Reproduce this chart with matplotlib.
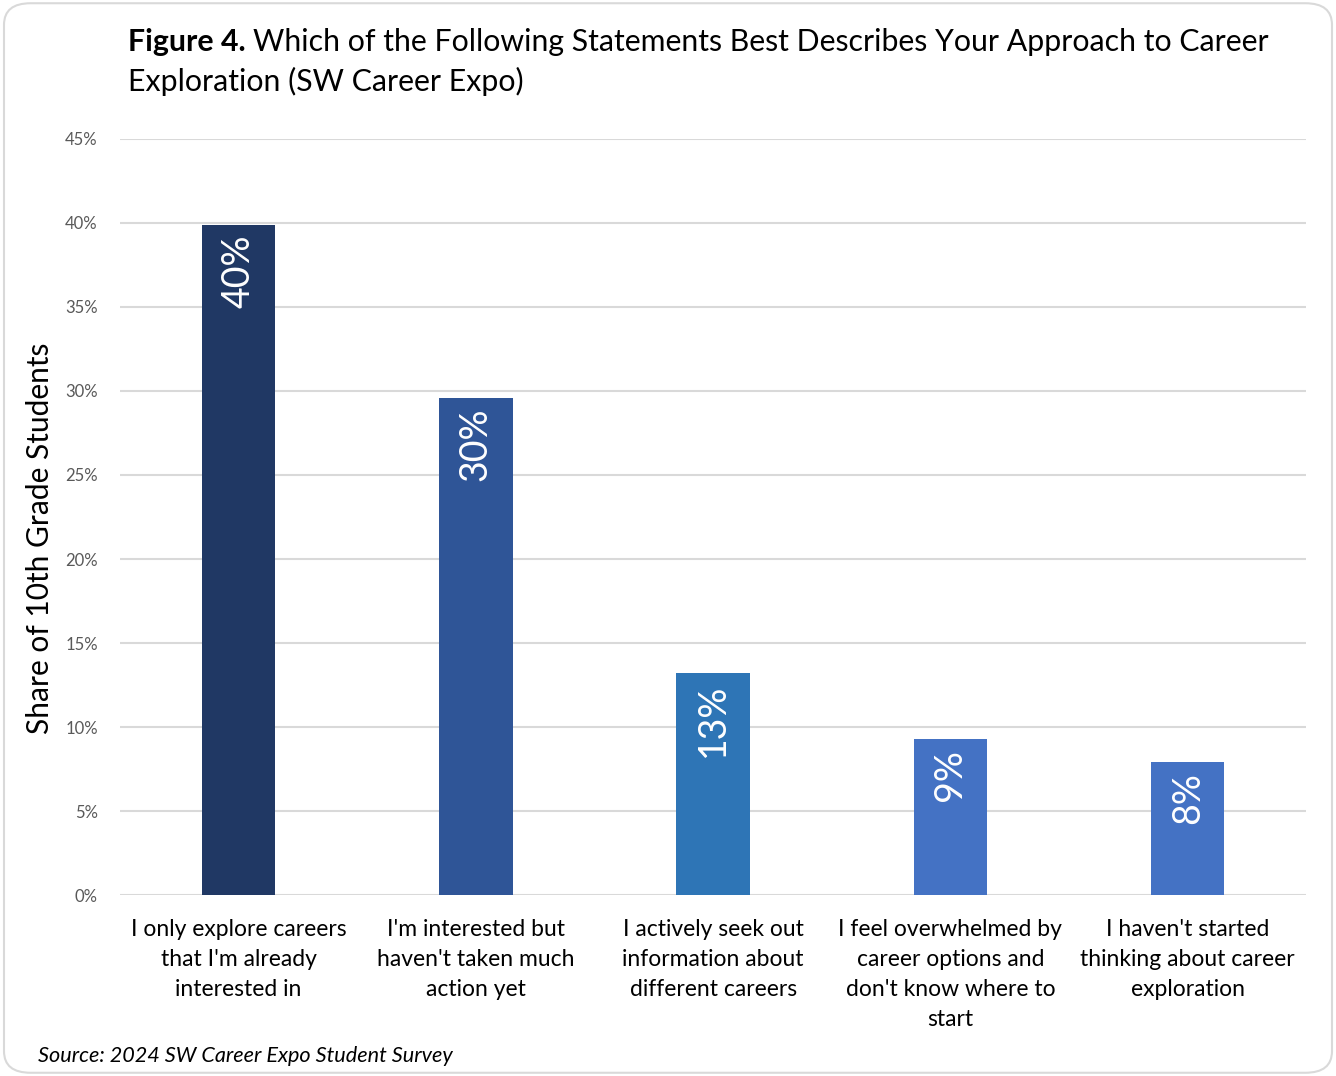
import matplotlib
matplotlib.use('Agg')
import matplotlib.pyplot as plt
from matplotlib.patches import FancyBboxPatch

plt.rcParams['font.family'] = ['Lato', 'DejaVu Sans']

# данные
categories = [
    "I only explore careers\nthat I'm already\ninterested in",
    "I'm interested but\nhaven't taken much\naction yet",
    "I actively seek out\ninformation about\ndifferent careers",
    "I feel overwhelmed by\ncareer options and\ndon't know where to\nstart",
    "I haven't started\nthinking about career\nexploration",
]
values = [39.9, 29.6, 13.2, 9.3, 7.9]
value_labels = ['40%', '30%', '13%', '9%', '8%']
colors = ['#203864', '#2F5597', '#2E75B6', '#4472C4', '#4472C4']
yticks = [0, 5, 10, 15, 20, 25, 30, 35, 40, 45]

fig = plt.figure(figsize=(13.36, 10.76), dpi=100)
ax = fig.add_axes([0.0898, 0.168, 0.888, 0.703])

# рамка вокруг графика
fig.patches.append(FancyBboxPatch((0.003, 0.003), 0.994, 0.994,
                                  boxstyle='round,pad=0,rounding_size=0.02',
                                  transform=fig.transFigure, facecolor='none',
                                  edgecolor='#d9d9d9', linewidth=1.5))

x = range(len(values))
bars = ax.bar(x, values, width=0.31, color=colors, zorder=3)
for b, lab in zip(bars, value_labels):
    ax.text(b.get_x() + b.get_width() / 2, b.get_height() - 0.6, lab,
            rotation=90, ha='center', va='top', color='white', fontsize=27, zorder=4)

ax.set_xlim(-0.5, 4.5)
ax.set_ylim(0, 45)
ax.set_yticks(yticks)
ax.set_yticklabels([f'{t}%' for t in yticks], color='#595959', fontsize=12)
ax.set_xticks(list(x))
ax.set_xticklabels(categories, fontsize=16.5, color='black', linespacing=1.53)
ax.tick_params(axis='both', length=0)
ax.tick_params(axis='x', pad=17)
ax.tick_params(axis='y', pad=16)
ax.grid(axis='y', color='#d9d9d9', linewidth=1.5, zorder=0)
for s in ax.spines.values():
    s.set_visible(False)
ax.set_ylabel('Share of 10th Grade Students', fontsize=21.5)
ax.yaxis.set_label_coords(-0.056, 0.472)

# заголовок
t1 = fig.text(128 / 1336, 1 - 42 / 1076, 'Figure 4.', fontsize=21.8, fontweight='bold', va='center')
fig.canvas.draw()
bb = t1.get_window_extent()
fig.text((bb.x1 + 7) / 1336, 1 - 42 / 1076,
         'Which of the Following Statements Best Describes Your Approach to Career',
         fontsize=21.8, va='center')
fig.text(128 / 1336, 1 - 81 / 1076, 'Exploration (SW Career Expo)', fontsize=21.8, va='center')

fig.text(38 / 1336, 1 - 1056 / 1076, 'Source: 2024 SW Career Expo Student Survey',
         fontsize=15.6, style='italic', va='center')

plt.savefig('out.png', dpi=100)
